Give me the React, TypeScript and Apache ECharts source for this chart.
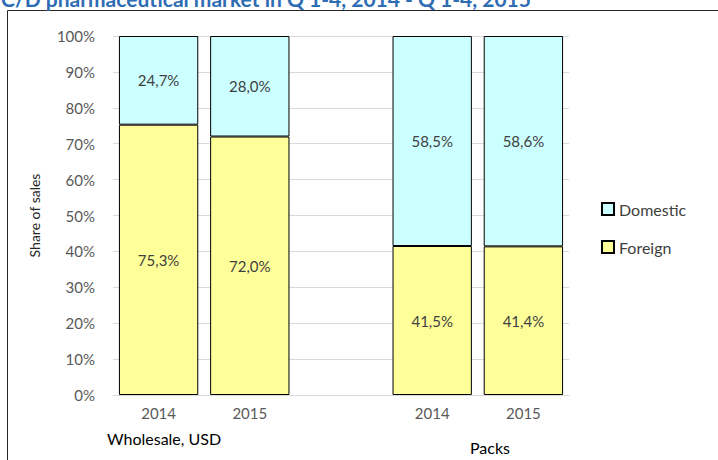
import React, { useEffect, useRef } from "react";
import * as echarts from "echarts";

const categories = ["2014", "2015", "", "2014", "2015"];
const foreign = [75.3, 72.0, null, 41.5, 41.4];
const domestic = [24.7, 28.0, null, 58.5, 58.6];
const yTicks = [0, 10, 20, 30, 40, 50, 60, 70, 80, 90, 100];
const groupLabels = ["Wholesale, USD", "Packs"];
const titleText = "C/D pharmaceutical market in Q 1-4, 2014 - Q 1-4, 2015";

const FONT = "Lato, 'Open Sans', sans-serif";

export default function App() {
  const ref = useRef<HTMLDivElement>(null);
  useEffect(() => {
    if (!ref.current) return;
    const chart = echarts.init(ref.current, undefined, { renderer: "svg" });
    const fmt = (p: any) =>
      p.value == null ? "" : Number(p.value).toFixed(1).replace(".", ",") + "%";
    chart.setOption({
      animation: false,
      backgroundColor: "#ffffff",
      textStyle: { fontFamily: FONT },
      grid: { left: 113, top: 36, width: 456, height: 359 },
      legend: {
        data: ["Domestic", "Foreign"],
        orient: "vertical",
        left: 596,
        top: 196,
        itemWidth: 12,
        itemHeight: 12,
        itemGap: 22,
        icon: "rect",
        textStyle: { color: "#404040", fontSize: 16, fontFamily: FONT },
      },
      xAxis: {
        type: "category",
        data: categories,
        axisTick: { show: false },
        axisLine: { lineStyle: { color: "#D9D9D9", width: 1 } },
        axisLabel: { color: "#595959", fontSize: 15, margin: 10, fontFamily: FONT },
      },
      yAxis: {
        type: "value",
        min: 0,
        max: 100,
        interval: 10,
        axisLine: { show: false },
        axisTick: { show: false },
        splitLine: { lineStyle: { color: "#D9D9D9", width: 1 } },
        axisLabel: {
          color: "#595959",
          fontSize: 15,
          margin: 18,
          fontFamily: FONT,
          formatter: (v: number) => (yTicks.includes(v) ? v + "%" : ""),
        },
        name: "Share of sales",
        nameLocation: "middle",
        nameGap: 72,
        nameTextStyle: { color: "#262626", fontSize: 14, fontFamily: FONT },
      },
      series: [
        {
          name: "Foreign",
          type: "bar",
          stack: "s",
          data: foreign,
          barCategoryGap: "13%",
          itemStyle: { color: "#FFFF99", borderColor: "#000000", borderWidth: 1 },
          label: { show: true, position: "inside", color: "#404040", fontSize: 15, fontFamily: FONT, formatter: fmt },
        },
        {
          name: "Domestic",
          type: "bar",
          stack: "s",
          data: domestic,
          barCategoryGap: "13%",
          itemStyle: { color: "#CCFFFF", borderColor: "#000000", borderWidth: 1 },
          label: { show: true, position: "inside", color: "#404040", fontSize: 15, fontFamily: FONT, formatter: fmt },
        },
      ],
      graphic: [
        {
          type: "rect",
          shape: { x: 7.5, y: 10.5, width: 800, height: 500 },
          style: { fill: "none", stroke: "#262626", lineWidth: 1 },
          silent: true,
        },
        {
          type: "text",
          x: 1,
          y: 9,
          style: {
            text: titleText,
            fill: "#2E6DB4",
            font: "bold 21px " + FONT,
            textVerticalAlign: "bottom",
          },
        },
        {
          type: "text",
          x: 107,
          y: 438,
          style: {
            text: groupLabels[0],
            fill: "#000000",
            font: "16px " + FONT,
            textVerticalAlign: "middle",
          },
        },
        {
          type: "text",
          x: 470,
          y: 447,
          style: {
            text: groupLabels[1],
            fill: "#000000",
            font: "16px " + FONT,
            textVerticalAlign: "middle",
          },
        },
      ],
    });
    return () => chart.dispose();
  }, []);
  return (
    <div
      ref={ref}
      style={{ position: "fixed", left: 0, top: 0, width: 718, height: 460 }}
    />
  );
}
